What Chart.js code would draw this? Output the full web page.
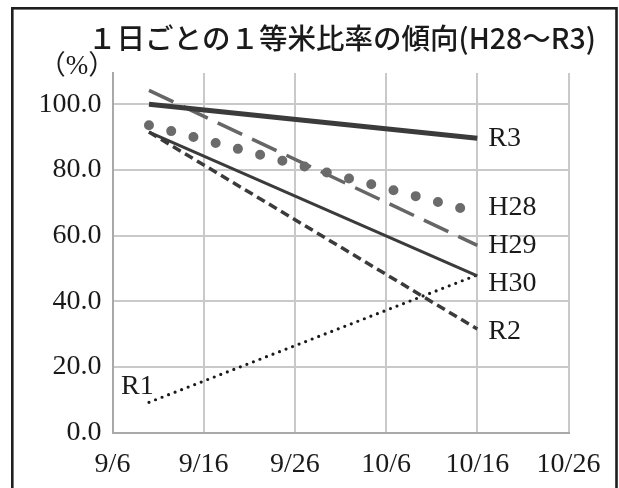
<!DOCTYPE html>
<html><head><meta charset="utf-8">
<script src="https://cdn.jsdelivr.net/npm/chart.js@4/dist/chart.umd.min.js"></script>
<style>html,body{margin:0;padding:0;background:#fff;}#wrap{width:619px;height:488px;position:relative;}</style>
</head><body><div id="wrap"><canvas id="c" width="619" height="488"></canvas></div>
<script>
// ---- data ----
const titleText = '１日ごとの１等米比率の傾向(H28～R3)';
const unitLabel = '（%）';
const xTickLabels = ['9/6', '9/16', '9/26', '10/6', '10/16', '10/26'];
const trendDates = ['9/10', '10/16'];
const seriesNames = ['R3', 'H28', 'H29', 'H30', 'R2', 'R1'];
const R3  = [100.0, 89.6];
const H28 = [93.6, 67.0];
const H29 = [104.2, 57.0];
const H30 = [91.5, 47.7];
const R2  = [91.5, 31.5];
const R1  = [9.2, 48.0];
const seriesValues = [R3, H28, H29, H30, R2, R1];

// ---- styles (not data) ----
const styles = {
  R3:  {color: '#3b3b3b', width: 5,   dash: [],      cap: 'butt',  anchor: 1, dx: 11, dy: 0},
  H28: {color: '#6b6b6b', width: 10,  dash: [0, 23], cap: 'round', anchor: 1, dx: 11, dy: -4.6},
  H29: {color: '#666666', width: 3.5, dash: [27, 11],cap: 'butt',  anchor: 1, dx: 11, dy: 0.7},
  H30: {color: '#3b3b3b', width: 3,   dash: [],      cap: 'butt',  anchor: 1, dx: 11, dy: 8},
  R2:  {color: '#3b3b3b', width: 3.5, dash: [9, 5],  cap: 'butt',  anchor: 1, dx: 11, dy: 2.4},
  R1:  {color: '#1a1a1a', width: 3.2, dash: [0, 7],  cap: 'round', anchor: 0, dx: -28, dy: -15.6}
};

function dayIndex(s) { // days since 9/6
  const [m, d] = s.split('/').map(Number);
  return (m === 9 ? d : 30 + d) - 6;
}

const datasets = seriesNames.map((name, i) => {
  const st = styles[name];
  return {
    label: name,
    data: trendDates.map((d, j) => ({x: dayIndex(d), y: seriesValues[i][j]})),
    borderColor: st.color,
    borderWidth: st.width,
    borderDash: st.dash,
    borderCapStyle: st.cap,
    pointRadius: 0,
    tension: 0,
    fill: false
  };
});

const serif = '"Liberation Serif", "DejaVu Serif", serif';

const decoPlugin = {
  id: 'deco',
  beforeDraw(chart) {
    const ctx = chart.ctx;
    ctx.save();
    ctx.fillStyle = '#fff';
    ctx.fillRect(0, 0, chart.width, chart.height);
    ctx.strokeStyle = '#1e1e1e';
    ctx.lineWidth = 2.6;
    ctx.strokeRect(12.3, 8.3, 604.2, 520);
    ctx.restore();
  },
  afterDraw(chart) {
    const ctx = chart.ctx;
    ctx.save();
    ctx.fillStyle = '#1a1a1a';
    ctx.textBaseline = 'middle';
    ctx.textAlign = 'left';
    ctx.font = '500 28.5px "Noto Sans CJK JP", sans-serif';
    ctx.fillText(titleText, 88, 38.5);
    ctx.textAlign = 'center';
    ctx.font = '27px ' + serif + ', "Noto Sans CJK JP"';
    ctx.fillText(unitLabel, 77, 66.5);
    ctx.textAlign = 'left';
    ctx.font = '28px ' + serif;
    chart.data.datasets.forEach((ds, i) => {
      const st = styles[ds.label];
      const pt = chart.getDatasetMeta(i).data[st.anchor];
      ctx.fillText(ds.label, pt.x + st.dx, pt.y + st.dy);
    });
    ctx.restore();
  }
};

new Chart(document.getElementById('c'), {
  type: 'line',
  data: {datasets},
  options: {
    responsive: false,
    animation: false,
    devicePixelRatio: 1,
    layout: {padding: {top: 73, right: 50.5, bottom: 0, left: 0}},
    plugins: {legend: {display: false}, title: {display: false}, tooltip: {enabled: false}},
    scales: {
      x: {
        type: 'linear',
        min: dayIndex(xTickLabels[0]),
        max: dayIndex(xTickLabels[xTickLabels.length - 1]),
        afterFit(s) { s.height = 55.5; },
        ticks: {
          stepSize: 10,
          autoSkip: false,
          maxRotation: 0,
          padding: 15,
          color: '#1a1a1a',
          font: {family: serif, size: 28},
          callback: v => { const l = xTickLabels.find(t => dayIndex(t) === v); return l === undefined ? null : l; }
        },
        grid: {color: '#c9c9c9', lineWidth: 2, drawTicks: false},
        border: {color: '#a9a9a9', width: 2}
      },
      y: {
        min: 0,
        max: 109.5,
        afterFit(s) { s.width = 112.5; },
        ticks: {
          stepSize: 20,
          includeBounds: false,
          padding: 11,
          color: '#1a1a1a',
          font: {family: serif, size: 28},
          callback: v => (v % 20 === 0 ? v.toFixed(1) : null)
        },
        grid: {color: '#c9c9c9', lineWidth: 2, drawTicks: false},
        border: {color: '#a9a9a9', width: 2}
      }
    }
  },
  plugins: [decoPlugin]
});
</script>
</body></html>
